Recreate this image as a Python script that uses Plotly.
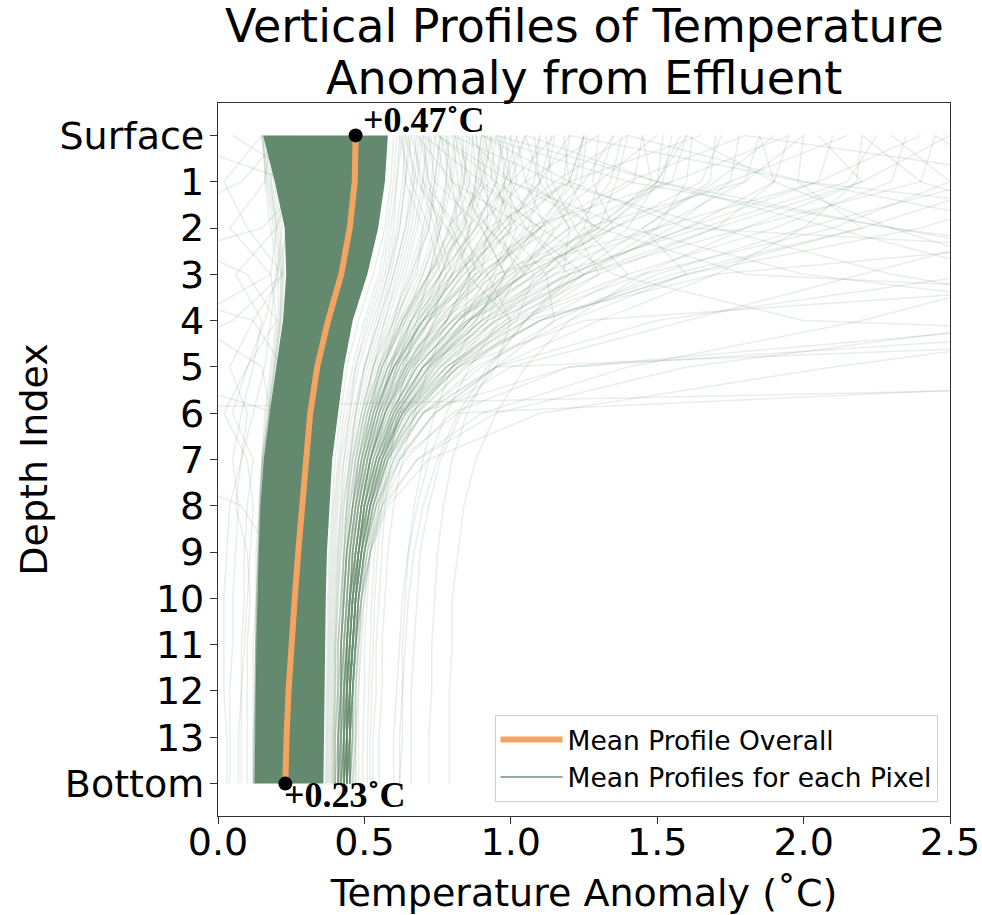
import plotly.graph_objects as go

# ---------------- data ----------------
depth_labels = ["Surface", "1", "2", "3", "4", "5", "6", "7", "8", "9",
                "10", "11", "12", "13", "Bottom"]
x_ticks = [0.0, 0.5, 1.0, 1.5, 2.0, 2.5]

mean_profile = [0.47, 0.467, 0.45, 0.421, 0.376, 0.339, 0.315, 0.30, 0.288,
                0.274, 0.262, 0.250, 0.241, 0.234, 0.23]

# envelope of the densely overlapping pixel profiles
core_left = [0.154, 0.194, 0.228, 0.233, 0.222, 0.199, 0.176, 0.156, 0.145,
             0.139, 0.134, 0.131, 0.129, 0.127, 0.125]
core_right = [0.58, 0.57, 0.547, 0.51, 0.46, 0.43, 0.41, 0.39, 0.38,
              0.372, 0.368, 0.365, 0.363, 0.362, 0.36]

edge_profiles = [
    [0.60, 0.59, 0.57, 0.53, 0.48, 0.44, 0.42, 0.40, 0.39, 0.38, 0.375, 0.372, 0.37, 0.368, 0.367],
    [0.61, 0.60, 0.58, 0.55, 0.50, 0.46, 0.43, 0.41, 0.395, 0.385, 0.38, 0.376, 0.374, 0.372, 0.371],
    [0.63, 0.61, 0.60, 0.57, 0.52, 0.47, 0.44, 0.415, 0.40, 0.39, 0.383, 0.379, 0.377, 0.375, 0.374],
    [0.64, 0.63, 0.61, 0.58, 0.53, 0.48, 0.45, 0.42, 0.405, 0.395, 0.388, 0.384, 0.381, 0.379, 0.378],
    [0.66, 0.64, 0.62, 0.59, 0.55, 0.50, 0.46, 0.43, 0.41, 0.40, 0.392, 0.388, 0.385, 0.383, 0.382],
    [0.68, 0.66, 0.64, 0.60, 0.56, 0.51, 0.47, 0.44, 0.42, 0.405, 0.397, 0.392, 0.389, 0.387, 0.386],
    [0.70, 0.68, 0.66, 0.62, 0.57, 0.52, 0.48, 0.45, 0.425, 0.41, 0.40, 0.396, 0.393, 0.391, 0.39],
    [0.72, 0.70, 0.67, 0.63, 0.58, 0.53, 0.49, 0.455, 0.43, 0.415, 0.405, 0.40, 0.397, 0.395, 0.394],
    [0.74, 0.73, 0.70, 0.65, 0.60, 0.54, 0.50, 0.46, 0.44, 0.42, 0.41, 0.405, 0.40, 0.398, 0.397],
    [0.77, 0.75, 0.72, 0.67, 0.61, 0.55, 0.51, 0.47, 0.445, 0.43, 0.42, 0.41, 0.405, 0.40, 0.40],
    [0.79, 0.78, 0.74, 0.69, 0.62, 0.56, 0.52, 0.48, 0.45, 0.435, 0.425, 0.42, 0.415, 0.41, 0.41],
    [0.82, 0.80, 0.76, 0.70, 0.63, 0.57, 0.52, 0.49, 0.46, 0.44, 0.43, 0.425, 0.42, 0.415, 0.415],
    [0.84, 0.83, 0.79, 0.72, 0.65, 0.58, 0.53, 0.495, 0.47, 0.45, 0.44, 0.43, 0.425, 0.42, 0.42],
    [0.87, 0.86, 0.81, 0.74, 0.66, 0.59, 0.54, 0.50, 0.475, 0.455, 0.445, 0.435, 0.43, 0.425, 0.425],
    [0.90, 0.88, 0.84, 0.76, 0.68, 0.60, 0.55, 0.51, 0.48, 0.46, 0.45, 0.44, 0.435, 0.43, 0.43],
    [0.93, 0.91, 0.86, 0.78, 0.69, 0.61, 0.56, 0.52, 0.49, 0.47, 0.455, 0.445, 0.44, 0.435, 0.435],
    [0.62, 0.61, 0.59, 0.56, 0.51, 0.47, 0.45, 0.43, 0.42, 0.41, 0.405, 0.40, 0.40, 0.395, 0.395],
    [0.65, 0.64, 0.62, 0.58, 0.54, 0.50, 0.47, 0.45, 0.44, 0.43, 0.425, 0.42, 0.42, 0.415, 0.415],
    [0.69, 0.67, 0.65, 0.61, 0.57, 0.53, 0.50, 0.47, 0.46, 0.45, 0.44, 0.44, 0.435, 0.43, 0.43],
    [0.73, 0.71, 0.68, 0.64, 0.60, 0.55, 0.52, 0.49, 0.47, 0.46, 0.455, 0.45, 0.445, 0.44, 0.44],
    [0.76, 0.74, 0.71, 0.66, 0.61, 0.57, 0.53, 0.51, 0.49, 0.48, 0.47, 0.465, 0.46, 0.455, 0.455],
    [0.81, 0.79, 0.75, 0.70, 0.64, 0.59, 0.55, 0.52, 0.50, 0.49, 0.48, 0.475, 0.47, 0.47, 0.47],
    [0.86, 0.84, 0.79, 0.73, 0.66, 0.61, 0.57, 0.54, 0.52, 0.50, 0.49, 0.485, 0.48, 0.48, 0.48],
    [0.91, 0.89, 0.83, 0.76, 0.69, 0.63, 0.59, 0.56, 0.54, 0.52, 0.51, 0.50, 0.50, 0.495, 0.495],
    [0.97, 0.95, 0.88, 0.80, 0.72, 0.65, 0.60, 0.57, 0.55, 0.535, 0.525, 0.52, 0.515, 0.51, 0.51],
    [1.02, 0.98, 0.92, 0.83, 0.74, 0.67, 0.62, 0.58, 0.56, 0.545, 0.535, 0.53, 0.525, 0.52, 0.52],
]

left_edge_profiles = [
    [0.150, 0.165, 0.190, 0.215, 0.210, 0.190, 0.170, 0.152, 0.143, 0.137, 0.132, 0.129, 0.127, 0.125, 0.123],
    [0.152, 0.175, 0.205, 0.222, 0.214, 0.194, 0.172, 0.153, 0.144, 0.138, 0.133, 0.130, 0.128, 0.126, 0.124],
    [0.156, 0.160, 0.180, 0.205, 0.205, 0.186, 0.166, 0.150, 0.142, 0.136, 0.131, 0.128, 0.126, 0.124, 0.122],
    [0.158, 0.182, 0.212, 0.226, 0.217, 0.196, 0.174, 0.155, 0.145, 0.139, 0.134, 0.131, 0.129, 0.127, 0.125],
    [0.149, 0.170, 0.198, 0.218, 0.212, 0.192, 0.171, 0.152, 0.143, 0.137, 0.132, 0.129, 0.127, 0.125, 0.123],
]

upper_profiles = [
    [0.63, 0.64, 0.70, 0.68, 0.60, 0.53, 0.49, 0.46, 0.44, 0.43, 0.42, 0.41, 0.41, 0.40, 0.40],
    [0.67, 0.69, 0.74, 0.78, 0.70, 0.60, 0.53, 0.49, 0.46, 0.44, 0.43, 0.42, 0.42, 0.41, 0.41],
    [0.71, 0.70, 0.76, 0.72, 0.64, 0.56, 0.51, 0.48, 0.46, 0.44, 0.43, 0.42, 0.42, 0.41, 0.41],
    [0.74, 0.78, 0.86, 0.82, 0.70, 0.60, 0.54, 0.50, 0.47, 0.45, 0.44, 0.43, 0.42, 0.42, 0.41],
    [0.78, 0.80, 0.82, 0.76, 0.66, 0.58, 0.53, 0.49, 0.47, 0.45, 0.44, 0.43, 0.43, 0.42, 0.42],
    [0.83, 0.85, 0.92, 0.90, 0.78, 0.65, 0.57, 0.52, 0.49, 0.47, 0.45, 0.44, 0.44, 0.43, 0.43],
    [0.87, 0.88, 0.86, 0.80, 0.70, 0.61, 0.55, 0.51, 0.48, 0.46, 0.45, 0.44, 0.43, 0.43, 0.42],
    [0.91, 0.94, 1.02, 0.96, 0.82, 0.68, 0.59, 0.53, 0.50, 0.48, 0.46, 0.45, 0.44, 0.44, 0.43],
    [0.96, 0.98, 0.96, 0.86, 0.74, 0.64, 0.57, 0.52, 0.49, 0.47, 0.46, 0.45, 0.44, 0.44, 0.43],
    [1.02, 1.05, 1.12, 1.04, 0.86, 0.70, 0.60, 0.54, 0.50, 0.48, 0.46, 0.45, 0.45, 0.44, 0.44],
    [1.08, 1.10, 1.06, 0.94, 0.80, 0.67, 0.59, 0.54, 0.51, 0.49, 0.47, 0.46, 0.45, 0.45, 0.44],
    [1.18, 1.20, 1.28, 1.12, 0.90, 0.73, 0.62, 0.56, 0.52, 0.49, 0.47, 0.46, 0.45, 0.45, 0.44],
    [0.65, 0.67, 0.64, 0.60, 0.55, 0.50, 0.47, 0.45, 0.43, 0.42, 0.41, 0.40, 0.40, 0.39, 0.39],
    [0.69, 0.72, 0.80, 0.86, 0.78, 0.64, 0.55, 0.50, 0.47, 0.45, 0.44, 0.43, 0.42, 0.42, 0.41],
    [0.76, 0.74, 0.72, 0.66, 0.59, 0.53, 0.49, 0.46, 0.44, 0.43, 0.42, 0.41, 0.41, 0.40, 0.40],
    [0.81, 0.84, 0.90, 0.98, 0.92, 0.76, 0.63, 0.55, 0.51, 0.48, 0.46, 0.45, 0.44, 0.44, 0.43],
    [0.94, 0.90, 0.82, 0.72, 0.63, 0.56, 0.51, 0.48, 0.46, 0.44, 0.43, 0.42, 0.42, 0.41, 0.41],
    [1.14, 1.10, 0.98, 0.84, 0.71, 0.62, 0.56, 0.52, 0.49, 0.47, 0.46, 0.45, 0.44, 0.44, 0.43],
    [1.26, 1.24, 1.16, 1.02, 0.86, 0.72, 0.62, 0.56, 0.52, 0.50, 0.48, 0.47, 0.46, 0.46, 0.45],
    [1.38, 1.34, 1.22, 1.04, 0.86, 0.71, 0.61, 0.55, 0.51, 0.49, 0.47, 0.46, 0.45, 0.45, 0.44],
]

fan_profiles = [
    [2.40, 2.05, 1.60, 1.20, 0.92, 0.74, 0.63, 0.56, 0.52, 0.49, 0.47, 0.46, 0.45, 0.44, 0.44],
    [2.30, 2.50, 2.10, 1.45, 1.02, 0.78, 0.64, 0.57, 0.52, 0.49, 0.47, 0.46, 0.45, 0.44, 0.44],
    [2.15, 1.75, 1.35, 1.05, 0.85, 0.70, 0.60, 0.54, 0.50, 0.48, 0.46, 0.45, 0.44, 0.43, 0.43],
    [2.05, 2.20, 1.70, 1.25, 0.95, 0.76, 0.64, 0.57, 0.53, 0.50, 0.48, 0.47, 0.46, 0.46, 0.45],
    [1.95, 1.55, 1.20, 0.98, 0.82, 0.70, 0.62, 0.57, 0.53, 0.51, 0.49, 0.48, 0.47, 0.47, 0.46],
    [1.85, 1.90, 1.60, 1.20, 0.90, 0.72, 0.61, 0.55, 0.51, 0.48, 0.46, 0.45, 0.44, 0.43, 0.43],
    [1.80, 1.40, 1.10, 0.90, 0.75, 0.64, 0.57, 0.52, 0.49, 0.47, 0.45, 0.44, 0.43, 0.43, 0.42],
    [1.72, 1.65, 1.35, 1.05, 0.82, 0.68, 0.59, 0.54, 0.50, 0.48, 0.46, 0.45, 0.44, 0.44, 0.43],
    [1.65, 1.20, 0.98, 0.84, 0.72, 0.63, 0.57, 0.53, 0.50, 0.48, 0.47, 0.46, 0.45, 0.45, 0.44],
    [1.58, 1.50, 1.28, 1.02, 0.82, 0.68, 0.59, 0.53, 0.49, 0.47, 0.45, 0.44, 0.43, 0.42, 0.42],
    [1.50, 1.30, 1.10, 0.92, 0.78, 0.67, 0.60, 0.55, 0.52, 0.50, 0.48, 0.47, 0.46, 0.46, 0.45],
    [1.45, 1.48, 1.30, 1.08, 0.88, 0.73, 0.63, 0.56, 0.52, 0.49, 0.47, 0.46, 0.45, 0.44, 0.44],
    [1.40, 1.15, 0.95, 0.80, 0.68, 0.60, 0.54, 0.50, 0.47, 0.45, 0.44, 0.43, 0.42, 0.42, 0.41],
    [1.35, 1.25, 1.10, 0.92, 0.76, 0.65, 0.57, 0.52, 0.49, 0.47, 0.45, 0.44, 0.43, 0.43, 0.42],
    [1.30, 1.05, 0.88, 0.76, 0.66, 0.59, 0.54, 0.51, 0.48, 0.46, 0.45, 0.44, 0.43, 0.43, 0.42],
    [1.25, 1.22, 1.08, 0.90, 0.75, 0.64, 0.57, 0.52, 0.49, 0.47, 0.45, 0.44, 0.44, 0.43, 0.43],
    [1.20, 1.10, 0.96, 0.82, 0.70, 0.61, 0.55, 0.51, 0.48, 0.46, 0.45, 0.44, 0.43, 0.42, 0.42],
    [1.15, 1.00, 0.85, 0.72, 0.63, 0.56, 0.52, 0.49, 0.47, 0.45, 0.44, 0.43, 0.42, 0.42, 0.41],
    [1.10, 1.08, 1.00, 0.86, 0.72, 0.62, 0.55, 0.51, 0.48, 0.46, 0.45, 0.44, 0.43, 0.43, 0.42],
    [1.05, 0.98, 0.90, 0.78, 0.67, 0.59, 0.54, 0.50, 0.48, 0.46, 0.45, 0.44, 0.43, 0.43, 0.42],
    [1.00, 1.02, 0.95, 0.82, 0.68, 0.58, 0.52, 0.48, 0.46, 0.44, 0.43, 0.42, 0.41, 0.41, 0.40],
    [0.98, 0.95, 0.88, 0.76, 0.64, 0.56, 0.51, 0.48, 0.46, 0.44, 0.43, 0.42, 0.42, 0.41, 0.41],
    [0.95, 1.00, 1.00, 0.88, 0.72, 0.60, 0.53, 0.49, 0.46, 0.44, 0.43, 0.42, 0.41, 0.41, 0.40],
    [0.92, 0.90, 0.84, 0.74, 0.63, 0.55, 0.50, 0.47, 0.45, 0.43, 0.42, 0.41, 0.41, 0.40, 0.40],
    [0.88, 0.92, 0.92, 0.82, 0.70, 0.60, 0.54, 0.50, 0.47, 0.45, 0.44, 0.43, 0.42, 0.42, 0.41],
    [0.85, 0.84, 0.80, 0.72, 0.62, 0.55, 0.50, 0.47, 0.45, 0.44, 0.43, 0.42, 0.42, 0.41, 0.41],
]

mesh_profiles = [
    [1.10, 1.05, 1.30, 0.95, 0.72, 0.62, 0.56, 0.52, 0.49, 0.47, 0.46, 0.45, 0.44, 0.44, 0.43],
    [0.75, 0.95, 1.15, 1.05, 0.80, 0.64, 0.56, 0.51, 0.48, 0.46, 0.45, 0.44, 0.43, 0.43, 0.42],
    [1.60, 1.55, 1.05, 1.20, 0.85, 0.66, 0.57, 0.52, 0.49, 0.47, 0.46, 0.45, 0.44, 0.44, 0.43],
    [2.10, 2.05, 1.50, 0.95, 0.90, 0.70, 0.60, 0.54, 0.50, 0.48, 0.46, 0.45, 0.45, 0.44, 0.44],
    [0.68, 0.80, 1.05, 1.25, 0.95, 0.70, 0.58, 0.52, 0.49, 0.47, 0.45, 0.44, 0.44, 0.43, 0.43],
    [1.35, 1.30, 1.25, 1.40, 1.10, 0.80, 0.63, 0.55, 0.51, 0.48, 0.47, 0.46, 0.45, 0.45, 0.44],
    [0.90, 0.88, 1.10, 0.85, 1.00, 0.78, 0.62, 0.55, 0.51, 0.48, 0.47, 0.46, 0.45, 0.44, 0.44],
    [1.95, 1.90, 1.70, 1.30, 0.98, 0.80, 0.68, 0.60, 0.55, 0.52, 0.50, 0.49, 0.48, 0.47, 0.47],
    [2.35, 2.30, 1.90, 1.40, 1.00, 0.78, 0.65, 0.58, 0.53, 0.50, 0.48, 0.47, 0.46, 0.46, 0.45],
    [0.72, 0.74, 0.90, 0.98, 0.88, 0.72, 0.61, 0.54, 0.50, 0.48, 0.46, 0.45, 0.44, 0.44, 0.43],
    [1.25, 1.20, 0.92, 1.05, 0.78, 0.60, 0.53, 0.49, 0.46, 0.44, 0.43, 0.42, 0.42, 0.41, 0.41],
    [1.70, 1.68, 1.45, 1.60, 1.20, 0.88, 0.70, 0.60, 0.54, 0.51, 0.49, 0.48, 0.47, 0.46, 0.46],
    [0.82, 0.86, 0.98, 1.12, 1.15, 0.90, 0.70, 0.59, 0.53, 0.50, 0.48, 0.47, 0.46, 0.45, 0.45],
    [1.45, 1.42, 1.15, 0.88, 0.70, 0.60, 0.54, 0.50, 0.47, 0.45, 0.44, 0.43, 0.43, 0.42, 0.42],
    [2.00, 1.98, 2.20, 1.60, 1.10, 0.82, 0.67, 0.58, 0.53, 0.50, 0.48, 0.47, 0.46, 0.45, 0.45],
    [0.66, 0.70, 0.82, 0.92, 1.00, 0.95, 0.74, 0.61, 0.54, 0.50, 0.48, 0.47, 0.46, 0.45, 0.45],
    [1.15, 1.12, 1.20, 1.00, 0.76, 0.63, 0.56, 0.52, 0.49, 0.47, 0.46, 0.45, 0.44, 0.44, 0.43],
    [1.85, 1.80, 1.25, 1.10, 0.95, 0.75, 0.63, 0.56, 0.52, 0.49, 0.47, 0.46, 0.45, 0.45, 0.44],
    [0.95, 0.93, 0.78, 0.90, 0.70, 0.58, 0.52, 0.48, 0.46, 0.44, 0.43, 0.42, 0.42, 0.41, 0.41],
    [2.25, 2.15, 1.65, 1.15, 0.85, 0.70, 0.61, 0.55, 0.51, 0.49, 0.47, 0.46, 0.46, 0.45, 0.45],
    [1.05, 1.10, 1.20, 1.18, 0.98, 0.76, 0.62, 0.55, 0.51, 0.48, 0.47, 0.46, 0.45, 0.44, 0.44],
    [1.52, 1.50, 1.40, 1.20, 1.05, 0.85, 0.68, 0.58, 0.53, 0.50, 0.48, 0.47, 0.46, 0.45, 0.45],
    [0.70, 0.72, 0.75, 0.80, 0.72, 0.62, 0.55, 0.51, 0.48, 0.46, 0.45, 0.44, 0.43, 0.43, 0.42],
    [0.80, 0.82, 0.85, 0.88, 0.78, 0.66, 0.57, 0.52, 0.49, 0.47, 0.45, 0.44, 0.44, 0.43, 0.43],
    [1.30, 1.28, 1.35, 1.15, 0.90, 0.72, 0.61, 0.55, 0.51, 0.49, 0.47, 0.46, 0.45, 0.45, 0.44],
    [2.45, 2.40, 1.80, 1.25, 0.92, 0.74, 0.63, 0.56, 0.52, 0.49, 0.47, 0.46, 0.45, 0.45, 0.44],
    [0.62, 0.66, 0.72, 0.76, 0.74, 0.66, 0.58, 0.53, 0.50, 0.48, 0.47, 0.46, 0.45, 0.45, 0.44],
    [1.00, 0.97, 1.05, 0.92, 0.84, 0.70, 0.60, 0.54, 0.50, 0.48, 0.46, 0.45, 0.44, 0.44, 0.43],
    [1.62, 1.60, 1.50, 1.10, 0.80, 0.65, 0.57, 0.52, 0.49, 0.47, 0.45, 0.44, 0.44, 0.43, 0.43],
    [0.88, 0.90, 0.96, 1.02, 0.94, 0.80, 0.66, 0.57, 0.52, 0.49, 0.47, 0.46, 0.45, 0.44, 0.44],
    [1.20, 1.18, 1.02, 0.80, 0.66, 0.58, 0.53, 0.50, 0.48, 0.46, 0.45, 0.44, 0.44, 0.43, 0.43],
    [2.20, 2.18, 2.00, 1.70, 1.30, 0.95, 0.74, 0.62, 0.56, 0.52, 0.50, 0.48, 0.47, 0.47, 0.46],
    [0.76, 0.80, 0.92, 1.08, 1.02, 0.82, 0.66, 0.57, 0.52, 0.49, 0.47, 0.46, 0.45, 0.45, 0.44],
    [1.40, 1.36, 1.30, 1.00, 0.82, 0.68, 0.59, 0.53, 0.50, 0.48, 0.46, 0.45, 0.45, 0.44, 0.44],
    [0.98, 1.00, 1.08, 0.98, 0.80, 0.66, 0.58, 0.53, 0.50, 0.48, 0.47, 0.46, 0.45, 0.45, 0.44],
    [1.78, 1.75, 1.55, 1.25, 1.00, 0.80, 0.66, 0.58, 0.53, 0.50, 0.48, 0.47, 0.46, 0.46, 0.45],
    [0.64, 0.68, 0.78, 0.86, 0.84, 0.72, 0.61, 0.54, 0.50, 0.48, 0.46, 0.45, 0.44, 0.44, 0.43],
    [1.12, 1.14, 1.22, 1.30, 1.05, 0.80, 0.64, 0.56, 0.51, 0.49, 0.47, 0.46, 0.45, 0.44, 0.44],
    [0.93, 0.95, 1.00, 0.94, 0.86, 0.74, 0.63, 0.56, 0.52, 0.49, 0.47, 0.46, 0.45, 0.45, 0.44],
    [1.55, 1.52, 1.32, 1.08, 0.86, 0.70, 0.60, 0.54, 0.50, 0.48, 0.46, 0.45, 0.45, 0.44, 0.44],
]

wide_profiles = [
    [1.60, 1.50, 1.32, 1.12, 0.96, 0.86, 0.78, 0.72, 0.68, 0.65, 0.63, 0.62, 0.61, 0.60, 0.60],
    [1.90, 1.70, 1.45, 1.22, 1.05, 0.93, 0.85, 0.80, 0.77, 0.75, 0.74, 0.73, 0.73, 0.72, 0.72],
    [2.50, 2.20, 1.80, 1.45, 1.20, 1.05, 0.95, 0.88, 0.84, 0.82, 0.80, 0.80, 0.79, 0.79, 0.79],
    [1.25, 1.20, 1.10, 0.98, 0.88, 0.80, 0.74, 0.70, 0.67, 0.65, 0.64, 0.63, 0.63, 0.62, 0.62],
    [1.05, 1.00, 0.94, 0.86, 0.78, 0.72, 0.67, 0.63, 0.60, 0.58, 0.57, 0.56, 0.56, 0.55, 0.55],
    [2.00, 1.80, 1.50, 1.25, 1.05, 0.92, 0.82, 0.75, 0.70, 0.67, 0.65, 0.64, 0.63, 0.63, 0.62],
    [0.78, 0.78, 0.76, 0.72, 0.68, 0.64, 0.61, 0.59, 0.57, 0.56, 0.55, 0.54, 0.54, 0.53, 0.53],
    [3.00, 2.60, 2.00, 1.50, 1.15, 0.95, 0.83, 0.76, 0.72, 0.69, 0.68, 0.67, 0.66, 0.66, 0.66],
]

spike_profiles = [
    [1.20, 2.00, 3.40, 1.70, 1.05, 0.78, 0.63, 0.55, 0.50, 0.47, 0.45, 0.44, 0.43, 0.42, 0.42],
    [0.90, 1.40, 2.30, 3.50, 1.25, 0.82, 0.64, 0.56, 0.51, 0.48, 0.46, 0.45, 0.44, 0.43, 0.43],
    [1.05, 1.50, 2.10, 2.70, 3.60, 1.20, 0.68, 0.57, 0.51, 0.48, 0.46, 0.45, 0.44, 0.44, 0.43],
    [0.80, 1.15, 1.70, 2.30, 3.20, 4.20, 0.82, 0.62, 0.54, 0.50, 0.48, 0.46, 0.45, 0.45, 0.44],
    [0.70, 0.90, 1.10, 1.35, 2.00, 6.40, -1.10, -0.30, 0.08, 0.18, 0.22, 0.24, 0.25, 0.26, 0.26],
    [1.40, 2.00, 2.80, 2.20, 1.60, 1.00, 0.74, 0.62, 0.55, 0.51, 0.49, 0.47, 0.46, 0.45, 0.45],
    [2.20, 2.40, 2.90, 2.60, 1.50, 0.95, 0.70, 0.58, 0.52, 0.49, 0.47, 0.46, 0.45, 0.44, 0.44],
    [1.60, 1.90, 2.30, 2.80, 2.20, 1.40, 0.90, 0.68, 0.57, 0.52, 0.49, 0.47, 0.46, 0.45, 0.45],
    [0.95, 1.50, 2.30, 3.20, 2.80, 1.60, 0.95, 0.68, 0.56, 0.51, 0.48, 0.46, 0.45, 0.44, 0.44],
    [1.80, 2.90, 2.40, 1.60, 1.10, 0.82, 0.66, 0.57, 0.52, 0.49, 0.47, 0.46, 0.45, 0.44, 0.44],
    [2.45, 2.70, 2.20, 1.55, 1.10, 0.84, 0.68, 0.58, 0.53, 0.50, 0.48, 0.47, 0.46, 0.45, 0.45],
    [0.75, 1.00, 1.40, 2.00, 3.30, 2.10, 1.10, 0.72, 0.58, 0.52, 0.49, 0.47, 0.46, 0.45, 0.45],
    [0.85, 1.00, 1.30, 1.80, 5.00, 0.95, 0.70, 0.60, 0.54, 0.50, 0.48, 0.47, 0.46, 0.45, 0.45],
    [0.90, 1.20, 1.60, 4.50, 3.00, 1.20, 0.80, 0.64, 0.56, 0.52, 0.49, 0.47, 0.46, 0.45, 0.45],
]

left_profiles = [
    [0.22, 0.08, -0.25, 0.10, 0.20, 0.18, 0.16, 0.15, 0.14, 0.13, 0.13, 0.12, 0.12, 0.12, 0.12],
    [0.05, 0.30, 0.15, -0.40, 0.12, 0.22, 0.20, 0.18, 0.16, 0.15, 0.14, 0.14, 0.13, 0.13, 0.13],
    [-0.20, 0.25, 0.20, 0.18, -0.10, 0.15, 0.18, 0.17, 0.15, 0.14, 0.14, 0.13, 0.13, 0.13, 0.13],
    [0.15, 0.02, 0.10, 0.22, 0.05, -0.30, 0.20, 0.18, 0.16, 0.15, 0.14, 0.13, 0.13, 0.12, 0.12],
    [0.18, 0.16, 0.04, 0.18, 0.20, 0.10, 0.02, 0.10, 0.12, 0.11, 0.10, 0.09, 0.08, 0.08, 0.08],
    [0.20, 0.18, 0.20, 0.06, 0.15, 0.12, 0.08, 0.05, 0.07, 0.06, 0.05, 0.05, 0.04, 0.04, 0.04],
    [0.17, 0.19, 0.22, 0.20, 0.16, 0.10, 0.05, 0.12, 0.10, 0.09, 0.09, 0.08, 0.08, 0.07, 0.07],
    [0.25, 0.22, 0.23, 0.22, 0.12, 0.04, 0.10, 0.08, 0.04, 0.03, 0.02, 0.02, 0.02, 0.03, 0.03],
    [0.19, 0.21, 0.24, 0.20, 0.18, 0.16, 0.12, 0.08, 0.06, 0.10, 0.11, 0.10, 0.10, 0.10, 0.10],
]

# ---------------- styling ----------------
GREEN = "rgb(99,138,110)"
LINE_GREEN = "rgba(99,138,110,0.15)"
LEGEND_GREEN = "rgba(99,138,110,0.7)"
ORANGE = "#F4A460"
FONT = "DejaVu Sans"

depth_idx = list(range(len(depth_labels)))
fig = go.Figure()

# dense core of overlapping per-pixel profiles
fig.add_trace(go.Scatter(
    x=core_left + core_right[::-1], y=depth_idx + depth_idx[::-1],
    mode="lines", fill="toself", fillcolor=GREEN, line=dict(width=0),
    hoverinfo="skip", showlegend=False))

for group in (edge_profiles, left_edge_profiles, upper_profiles, fan_profiles,
              mesh_profiles, wide_profiles, spike_profiles, left_profiles):
    for prof in group:
        fig.add_trace(go.Scatter(
            x=prof, y=depth_idx, mode="lines",
            line=dict(color=LINE_GREEN, width=1.5),
            hoverinfo="skip", showlegend=False))

fig.add_trace(go.Scatter(
    x=mean_profile, y=depth_idx, mode="lines",
    line=dict(color=ORANGE, width=6), name="Mean Profile Overall"))

fig.add_trace(go.Scatter(
    x=[None], y=[None], mode="lines",
    line=dict(color=LEGEND_GREEN, width=2), name="Mean Profiles for each Pixel"))

fig.add_trace(go.Scatter(
    x=[mean_profile[0], mean_profile[-1]], y=[depth_idx[0], depth_idx[-1]],
    mode="markers", marker=dict(color="black", size=14),
    cliponaxis=False, showlegend=False, hoverinfo="skip"))

ann_font = dict(family="Liberation Serif", size=36, color="black")
fig.add_annotation(x=mean_profile[0], y=depth_idx[0], xref="x", yref="y",
                   text="<b>+%.2f˚C</b>" % mean_profile[0], showarrow=False,
                   xanchor="left", yanchor="bottom", xshift=6, yshift=-6,
                   borderpad=0, font=ann_font)
fig.add_annotation(x=mean_profile[-1], y=depth_idx[-1], xref="x", yref="y",
                   text="<b>+%.2f˚C</b>" % mean_profile[-1], showarrow=False,
                   xanchor="left", yanchor="top", xshift=-2, yshift=10,
                   borderpad=0, font=ann_font)

# title (two lines)
title_font = dict(family=FONT, size=46, color="black")
fig.add_annotation(x=0.5, y=(816 - 26) / 713, xref="paper", yref="paper",
                   text="Vertical Profiles of Temperature", showarrow=False,
                   xanchor="center", yanchor="middle", borderpad=0, font=title_font)
fig.add_annotation(x=0.5, y=(816 - 78) / 713, xref="paper", yref="paper",
                   text="Anomaly from Effluent", showarrow=False,
                   xanchor="center", yanchor="middle", borderpad=0, font=title_font)

axis_common = dict(
    showgrid=False, zeroline=False, showline=True, mirror=True,
    linecolor="#333", linewidth=1.3, ticks="outside", ticklen=7,
    tickwidth=1.3, tickcolor="#333", automargin=False,
    tickfont=dict(family=FONT, size=38, color="black"),
)

fig.update_layout(
    width=982, height=915,
    margin=dict(l=218, r=32, t=103, b=99),
    paper_bgcolor="white", plot_bgcolor="white",
    xaxis=dict(range=[0, 2.5], tickvals=x_ticks,
               ticktext=["%.1f" % v for v in x_ticks],
               ticklabelstandoff=-15,
               title=dict(text="Temperature Anomaly (˚C)", standoff=22,
                          font=dict(family=FONT, size=38, color="black")),
               **axis_common),
    yaxis=dict(range=[14.7, -0.7], tickvals=depth_idx, ticktext=depth_labels,
               ticklabelstandoff=-2,
               title=dict(text="Depth Index", standoff=0,
                          font=dict(family=FONT, size=38, color="black")),
               **axis_common),
    legend=dict(x=0.983, y=0.02, xanchor="right", yanchor="bottom",
                bgcolor="white", bordercolor="#d0d0d0", borderwidth=1,
                font=dict(family=FONT, size=26.5, color="black"),
                itemwidth=62),
    showlegend=True,
)

fig.write_html("out.html")
